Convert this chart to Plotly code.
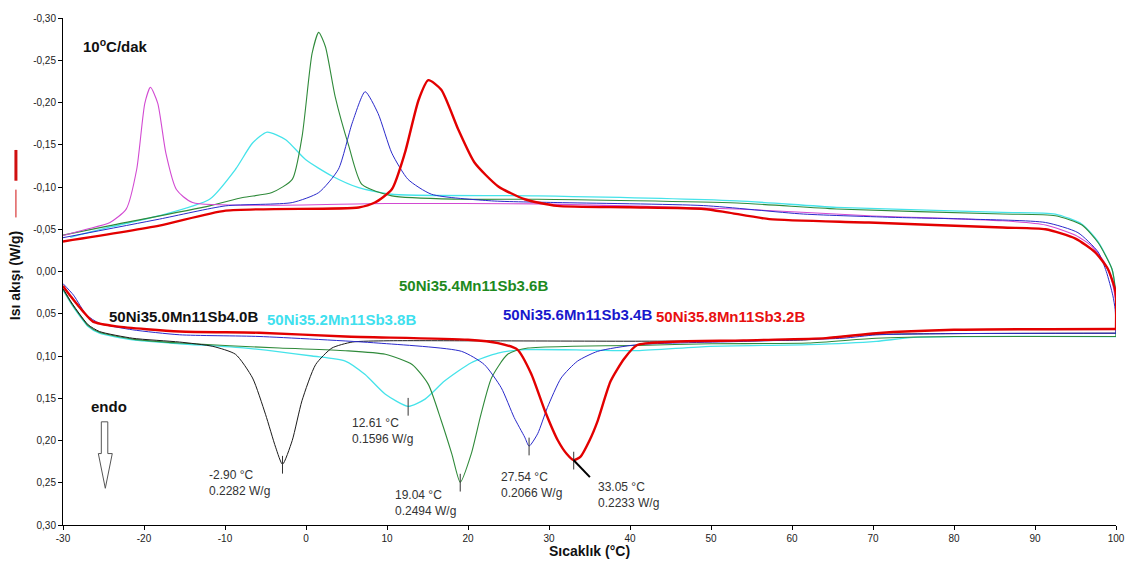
import plotly.graph_objects as go

# ---------------- data ----------------
x_ticks = [-30, -20, -10, 0, 10, 20, 30, 40, 50, 60, 70, 80, 90, 100]
x_ticktext = ["-30", "-20", "-10", "0", "10", "20", "30", "40", "50", "60", "70", "80", "90", "100"]
y_ticks = [-0.30, -0.25, -0.20, -0.15, -0.10, -0.05, 0.00, 0.05, 0.10, 0.15, 0.20, 0.25, 0.30]
y_ticktext = ["-0,30", "-0,25", "-0,20", "-0,15", "-0,10", "-0,05", "0,00",
              "0,05", "0,10", "0,15", "0,20", "0,25", "0,30"]

sample_names = ["50Ni35.0Mn11Sb4.0B", "50Ni35.2Mn11Sb3.8B", "50Ni35.4Mn11Sb3.6B",
                "50Ni35.6Mn11Sb3.4B", "50Ni35.8Mn11Sb3.2B"]

# heating (endothermic, lower branch)
s40_heat_T = [-30, -29, -27.9, -26.9, -25.5, -21.4, -15.6, -11.5, -8.7, -6.6, -5, -3.75, -2.9, -1.7, -0.5, 1.2, 3.2, 5.7, 10, 20, 40, 55, 62, 66, 70, 80, 100]
s40_heat_Y = [0.020, 0.036, 0.051, 0.063, 0.071, 0.079, 0.0835, 0.0886, 0.098, 0.126, 0.169, 0.208, 0.2282, 0.200, 0.153, 0.110, 0.0906, 0.0835, 0.082, 0.082, 0.0825, 0.082, 0.0808, 0.077, 0.0745, 0.0735, 0.073]

s38_heat_T = [-30, -29, -27.9, -26.9, -25.5, -21.4, -15.6, -7.4, 0.75, 4.85, 7.3, 9.8, 12.61, 14.7, 17.1, 20.4, 23.7, 27, 35, 40.9, 49.9, 62, 70.4, 75, 100]
s38_heat_Y = [0.022, 0.038, 0.053, 0.065, 0.073, 0.081, 0.0855, 0.0906, 0.100, 0.106, 0.122, 0.1453, 0.1596, 0.151, 0.1297, 0.108, 0.0965, 0.0925, 0.093, 0.0937, 0.0886, 0.0866, 0.0827, 0.078, 0.077]

s36_heat_T = [-30, -29, -27.9, -26.9, -25.5, -21.4, -15.6, -3.3, 4.85, 9.8, 13.1, 15.1, 16.7, 18, 19.04, 20.4, 21.6, 22.9, 24.9, 27.4, 33, 40.9, 50, 62, 70.4, 80, 100]
s36_heat_Y = [0.021, 0.037, 0.052, 0.064, 0.072, 0.080, 0.0847, 0.0906, 0.0937, 0.098, 0.110, 0.1336, 0.1766, 0.2158, 0.2494, 0.2158, 0.169, 0.126, 0.098, 0.0906, 0.0885, 0.0875, 0.0855, 0.0847, 0.079, 0.077, 0.077]

s34_heat_T = [-30, -28.7, -27.1, -25.5, -21.4, -15.6, -5.8, 8.9, 19.2, 22, 24.1, 25.7, 27, 27.54, 28.6, 29.8, 31.5, 33.5, 36, 40.9, 54, 66.3, 70.4, 80, 100]
s34_heat_Y = [0.0143, 0.028, 0.0514, 0.0613, 0.069, 0.0749, 0.0769, 0.0847, 0.0945, 0.110, 0.1375, 0.1728, 0.196, 0.2066, 0.192, 0.161, 0.126, 0.1062, 0.0945, 0.0866, 0.0827, 0.0789, 0.075, 0.0735, 0.073]

s32_heat_T = [-30, -29, -27.5, -26.3, -23.4, -15.6, -5.8, 4.85, 20, 23.7, 26.1, 27.8, 29.5, 31.1, 32.2, 33.05, 33.9, 35, 36, 37.6, 39.3, 40.9, 54, 64.2, 70.4, 80, 100]
s32_heat_Y = [0.017, 0.030, 0.0475, 0.0593, 0.065, 0.071, 0.0725, 0.0769, 0.0808, 0.0847, 0.0925, 0.121, 0.165, 0.200, 0.216, 0.2233, 0.219, 0.200, 0.177, 0.130, 0.103, 0.087, 0.0815, 0.0789, 0.073, 0.069, 0.068]

# cooling (exothermic, upper branch), from 100 back to -30
s40_cool_T = [100, 100, 99.8, 99.4, 98.5, 97, 95, 91.3, 86, 69.5, 53.2, 28.6, 10, -14, -16, -17.3, -18.3, -19.2, -19.9, -20.9, -22.2, -24.2, -27.1, -30]
s40_cool_Y = [0.071, 0.040, 0.025, 0.008, -0.012, -0.030, -0.043, -0.055, -0.060, -0.066, -0.074, -0.080, -0.0805, -0.0816, -0.097, -0.140, -0.199, -0.218, -0.199, -0.121, -0.0738, -0.058, -0.050, -0.0425]

s38_cool_T = [100, 100, 99.9, 99.5, 97.8, 95.8, 92.5, 86, 65.5, 53.2, 28.6, 10.6, 6.5, 3.2, -0.06, -2.5, -4.8, -6.6, -8.7, -11.9, -18.1, -24, -29.1]
s38_cool_Y = [0.077, 0.040, 0.020, -0.003, -0.035, -0.056, -0.068, -0.070, -0.076, -0.0836, -0.0895, -0.0914, -0.0992, -0.113, -0.1325, -0.156, -0.165, -0.152, -0.121, -0.0855, -0.066, -0.053, -0.0405]

s36_cool_T = [100, 100, 99.9, 99.5, 97.8, 95.8, 92.5, 86, 65.5, 53.2, 28.6, 18.8, 10.6, 6.9, 5.3, 3.6, 2.4, 1.57, 0.75, -0.48, -1.7, -4.2, -7.8, -11.9, -24.2, -30]
s36_cool_Y = [0.077, 0.040, 0.020, -0.003, -0.034, -0.055, -0.066, -0.068, -0.074, -0.081, -0.0855, -0.0855, -0.0895, -0.103, -0.148, -0.207, -0.266, -0.283, -0.258, -0.160, -0.109, -0.0934, -0.0875, -0.0777, -0.0543, -0.043]

s34_cool_T = [100, 99.9, 99.6, 98.8, 97.8, 95.3, 91.3, 81.8, 72.8, 61.4, 49.1, 31, 22.9, 15.5, 12.6, 10.6, 8.9, 7.3, 5.7, 4, 1.57, -1.7, -9.9, -18.1, -30]
s34_cool_Y = [0.073, 0.045, 0.028, 0.000, -0.023, -0.046, -0.058, -0.062, -0.064, -0.068, -0.078, -0.0816, -0.0836, -0.0914, -0.109, -0.140, -0.187, -0.2128, -0.1756, -0.121, -0.0934, -0.0816, -0.0777, -0.062, -0.040]

s32_cool_T = [100, 100, 99.85, 99, 97.4, 95, 91.3, 86, 69.5, 57.2, 52, 49.1, 40, 31, 27, 23.7, 20.8, 18.8, 16.7, 15.1, 13.9, 12.2, 10.6, 8.5, 6.5, -9.9, -18.1, -30]
s32_cool_Y = [0.068, 0.030, 0.020, -0.003, -0.023, -0.039, -0.050, -0.052, -0.058, -0.062, -0.070, -0.074, -0.076, -0.0777, -0.0855, -0.101, -0.129, -0.168, -0.215, -0.2264, -0.203, -0.140, -0.0973, -0.0816, -0.0758, -0.072, -0.0543, -0.0355]

peak_T = [-2.90, 12.61, 19.04, 27.54, 33.05]
peak_Y = [0.2282, 0.1596, 0.2494, 0.2066, 0.2233]

# ---------------- layout geometry ----------------
W, H = 1137, 568
ML, MR, MT, MB = 63, 16, 14, 43
PW, PH = W - ML - MR, H - MT - MB


def px(x):
    return (x - ML) / PW


def py(y):
    return (H - MB - y) / PH


c_black = "#1c1c1c"
c_cyan = "#45E3EA"
c_green = "#2F8A3A"
c_blue = "#2A2ACB"
c_mag = "#D24AD2"
c_red = "#E30000"

fig = go.Figure()


def add(T, Y, color, width=1.0):
    fig.add_trace(go.Scatter(x=T, y=Y, mode="lines",
                             line=dict(color=color, width=width, shape="spline", smoothing=0.6),
                             showlegend=False, hoverinfo="skip"))


add(s38_heat_T, s38_heat_Y, c_cyan, 1.3)
add(s38_cool_T, s38_cool_Y, c_cyan, 1.3)
add(s36_heat_T, s36_heat_Y, c_green, 1.1)
add(s36_cool_T, s36_cool_Y, c_green, 1.1)
add(s40_heat_T, s40_heat_Y, c_black, 1.0)
add(s40_cool_T, s40_cool_Y, c_mag, 1.1)
add(s34_heat_T, s34_heat_Y, c_blue, 1.0)
add(s34_cool_T, s34_cool_Y, c_blue, 1.0)
add(s32_heat_T, s32_heat_Y, c_red, 2.4)
add(s32_cool_T, s32_cool_Y, c_red, 2.4)

shapes = []
# peak markers
for t, v in zip(peak_T, peak_Y):
    shapes.append(dict(type="line", xref="x", yref="y", x0=t, x1=t, y0=v - 0.010, y1=v + 0.011,
                       line=dict(color="#333333", width=1)))
# leader line for the last peak
shapes.append(dict(type="line", xref="x", yref="y", x0=peak_T[4], y0=peak_Y[4],
                   x1=peak_T[4] + 2.0, y1=peak_Y[4] + 0.020, line=dict(color="#000000", width=2)))

# red marks beside the y title
shapes.append(dict(type="line", xref="paper", yref="paper", x0=px(15.7), x1=px(15.7), y0=py(147), y1=py(178),
                   line=dict(color="#D01010", width=3)))
shapes.append(dict(type="line", xref="paper", yref="paper", x0=px(15.7), x1=px(15.7), y0=py(187), y1=py(215),
                   line=dict(color="#D01010", width=1)))

# hollow "endo" arrow
pts = [(101.5, 421), (108, 421), (108, 453), (112.5, 453), (105.5, 488), (98.5, 453), (101.5, 453)]
path = "M " + " L ".join(f"{px(a):.5f},{py(b):.5f}" for a, b in pts) + " Z"
shapes.append(dict(type="path", xref="paper", yref="paper", path=path,
                   line=dict(color="#555555", width=1), fillcolor="white"))

annotations = []


def ann(text, x, y, size=12, color="#333333", bold=False, xanchor="left", yanchor="middle", angle=0, align="left"):
    if bold:
        text = "<b>" + text + "</b>"
    annotations.append(dict(text=text, xref="paper", yref="paper", x=px(x), y=py(y), showarrow=False,
                            xanchor=xanchor, yanchor=yanchor, textangle=angle, align=align,
                            font=dict(family="Liberation Sans, Arial", size=size, color=color)))


ann("10<sup>o</sup>C/dak", 81, 42, size=15, color="#111111", bold=True)
ann(sample_names[0], 107, 315, size=15, color="#111111", bold=True)
ann(sample_names[1], 266, 318, size=15, color="#40E0EE", bold=True)
ann(sample_names[2], 399, 284, size=15, color="#1E8A1E", bold=True)
ann(sample_names[3], 503, 313, size=15, color="#1818CC", bold=True)
ann(sample_names[4], 657, 315, size=15, color="#E81010", bold=True)
ann("endo", 89, 406, size=15, color="#111111", bold=True)

label_pos = [(208, 482.5), (351, 430.5), (395, 502.5), (501, 484.5), (599, 494.5)]
for (lx, ly), t, v in zip(label_pos, peak_T, peak_Y):
    ann(f"{t:.2f} °C<br>{v:.4f} W/g", lx, ly, size=12, color="#333333")

ann("Sıcaklık (°C)", 592, 551, size=14, color="#111111", bold=True, xanchor="center")
ann("Isı akışı (W/g)", 15, 274, size=14, color="#111111", bold=True, xanchor="center", angle=-90)

fig.update_layout(
    width=W, height=H,
    margin=dict(l=ML, r=MR, t=MT, b=MB, pad=0),
    paper_bgcolor="white", plot_bgcolor="white",
    font=dict(family="Liberation Sans, Arial", size=10, color="#222222"),
    shapes=shapes, annotations=annotations,
    xaxis=dict(range=[-30, 100], tickvals=x_ticks, ticktext=x_ticktext, showgrid=False, zeroline=False,
               showline=True, linecolor="black", linewidth=1, ticks="outside", ticklen=4,
               tickcolor="black", tickfont=dict(size=10, color="#222222")),
    yaxis=dict(range=[0.30, -0.30], tickvals=y_ticks, ticktext=y_ticktext, showgrid=False, zeroline=False,
               showline=True, linecolor="black", linewidth=1, ticks="outside", ticklen=4,
               tickcolor="black", tickfont=dict(size=10, color="#222222")),
)

fig.write_html("out.html")
